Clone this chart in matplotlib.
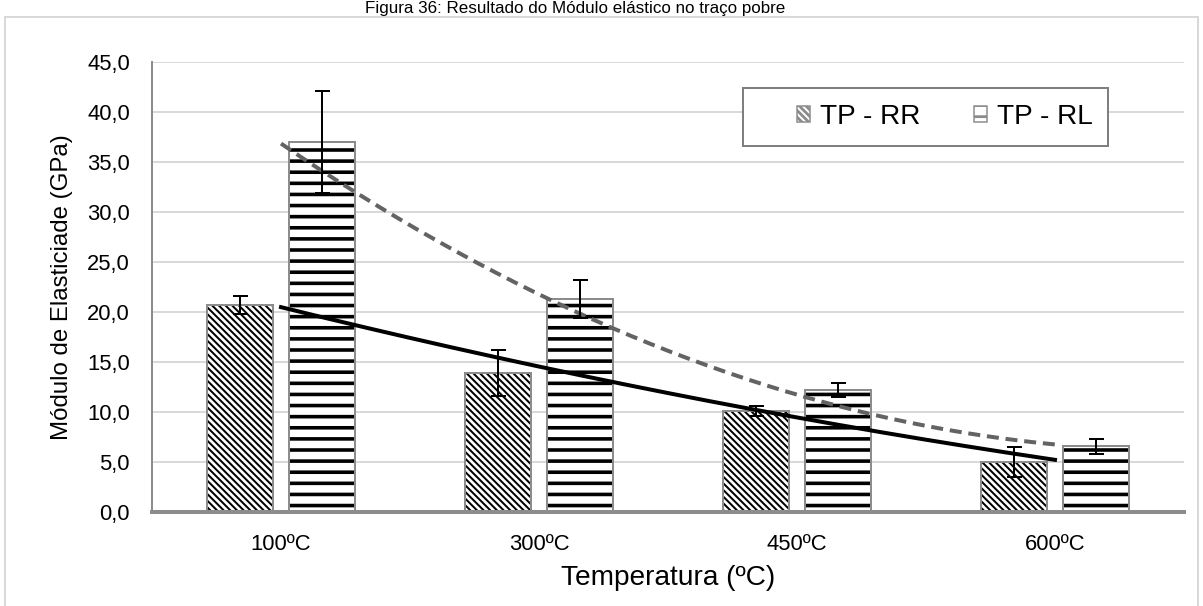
"""
Módulo de elasticidade no traço pobre: barras TP-RR / TP-RL por temperatura,
com barras de erro e linhas de tendência polinomiais (grau 2).
"""

import numpy as np
import matplotlib
matplotlib.use("Agg")
import matplotlib.pyplot as plt
from matplotlib.patches import Patch, Rectangle

plt.rcParams["font.family"] = ["Liberation Sans", "DejaVu Sans"]

DPI = 200


def px(v):
    # pixels -> pontos
    return v * 72 / DPI


temperaturas = ["100ºC", "300ºC", "450ºC", "600ºC"]
modulo_rr = [20.7, 13.9, 10.1, 5.0]
erro_rr = [0.9, 2.3, 0.5, 1.5]
modulo_rl = [37.0, 21.3, 12.2, 6.6]
erro_rl = [5.1, 1.9, 0.7, 0.75]
rotulos = ["TP - RR", "TP - RL"]
yticks = np.arange(0, 46, 5)

HATCH_RR = "\\" * 10
HATCH_RL = "---"

W, H = 1203, 606
fig = plt.figure(figsize=(W / DPI, H / DPI), dpi=DPI)

# moldura da área do gráfico e título no topo
fig.patches.append(Rectangle((5 / W, -0.05), 1193 / W, 1.05 - 17 / H,
                             transform=fig.transFigure, fill=False,
                             edgecolor="#d9d9d9", linewidth=px(2)))
fig.text(575 / W, 1 - 1 / H, "Figura 36: Resultado do Módulo elástico no traço pobre",
         ha="center", va="top", fontsize=px(17), color="black")

ax = fig.add_axes([152 / W, 1 - 512 / H, 1032 / W, 450 / H])

x = np.arange(len(temperaturas))
largura = 0.256
desloc = 0.159

for xs, vals, hatch, hlw in [(x - desloc, modulo_rr, HATCH_RR, px(2.0)),
                             (x + desloc, modulo_rl, HATCH_RL, px(3.6))]:
    with plt.rc_context({"hatch.linewidth": hlw}):
        barras = ax.bar(xs, vals, largura, color="white", edgecolor="black",
                        linewidth=0, hatch=hatch, zorder=2)
    for b in barras:
        if hasattr(b, "set_hatch_linewidth"):
            b.set_hatch_linewidth(hlw)
    ax.bar(xs, vals, largura, fill=False, edgecolor="#8c8c8c",
           linewidth=px(2), zorder=3)

ax.errorbar(x - desloc, modulo_rr, yerr=erro_rr, fmt="none", ecolor="black",
            elinewidth=px(2), capsize=px(7.5), capthick=px(2), zorder=5)
ax.errorbar(x + desloc, modulo_rl, yerr=erro_rl, fmt="none", ecolor="black",
            elinewidth=px(2), capsize=px(7.5), capthick=px(2), zorder=5)

# linhas de tendência polinomiais (grau 2) sobre a posição das categorias
xx = np.linspace(0, len(temperaturas) - 1, 200)
coef_rr = np.polyfit(x, modulo_rr, 2)
coef_rl = np.polyfit(x, modulo_rl, 2)
ax.plot(xx, np.polyval(coef_rr, xx), color="black", linewidth=px(4), zorder=4)
ax.plot(xx, np.polyval(coef_rl, xx), color="#636363", linewidth=px(4),
        linestyle=(0, (3, 1.7)), zorder=4)

ax.set_xlim(-0.5, len(temperaturas) - 0.5)
ax.set_ylim(0, 45)
ax.set_yticks(yticks)
ax.set_yticklabels([f"{v:.1f}".replace(".", ",") for v in yticks], fontsize=px(22))
ax.set_xticks(x)
ax.set_xticklabels(temperaturas, fontsize=px(22))
ax.tick_params(axis="both", length=0)
ax.tick_params(axis="y", pad=px(22))
ax.tick_params(axis="x", pad=px(22))

ax.grid(axis="y", color="#d9d9d9", linewidth=px(2), zorder=0)
ax.set_axisbelow(True)
for lado in ["top", "right"]:
    ax.spines[lado].set_visible(False)
ax.spines["left"].set_color("#8c8c8c")
ax.spines["left"].set_linewidth(px(2))
ax.spines["bottom"].set_color("#8c8c8c")
ax.spines["bottom"].set_linewidth(px(4))

ax.set_ylabel("Módulo de Elasticiade (GPa)", fontsize=px(24), labelpad=px(14))
ax.set_xlabel("Temperatura (ºC)", fontsize=px(28), labelpad=px(10))

# legenda: conteúdo sem moldura + moldura desenhada à parte (como no Excel)
handles = [Patch(facecolor="white", edgecolor="#8c8c8c", hatch=HATCH_RR, linewidth=px(1.5)),
           Patch(facecolor="white", edgecolor="#8c8c8c", hatch=HATCH_RL, linewidth=px(1.5))]
fig.legend(handles, rotulos, loc="center", bbox_to_anchor=(945 / W, 1 - 117 / H),
           bbox_transform=fig.transFigure, ncol=2, fontsize=px(28),
           handlelength=0.47, handleheight=0.47, handletextpad=0.36,
           columnspacing=1.9, borderpad=0, borderaxespad=0, frameon=False)
fig.patches.append(Rectangle((743 / W, 1 - 146 / H), 365 / W, 58 / H,
                             transform=fig.transFigure, facecolor="white",
                             edgecolor="#7f7f7f", linewidth=px(2), zorder=0.5))

fig.savefig("out.png", dpi=DPI)
